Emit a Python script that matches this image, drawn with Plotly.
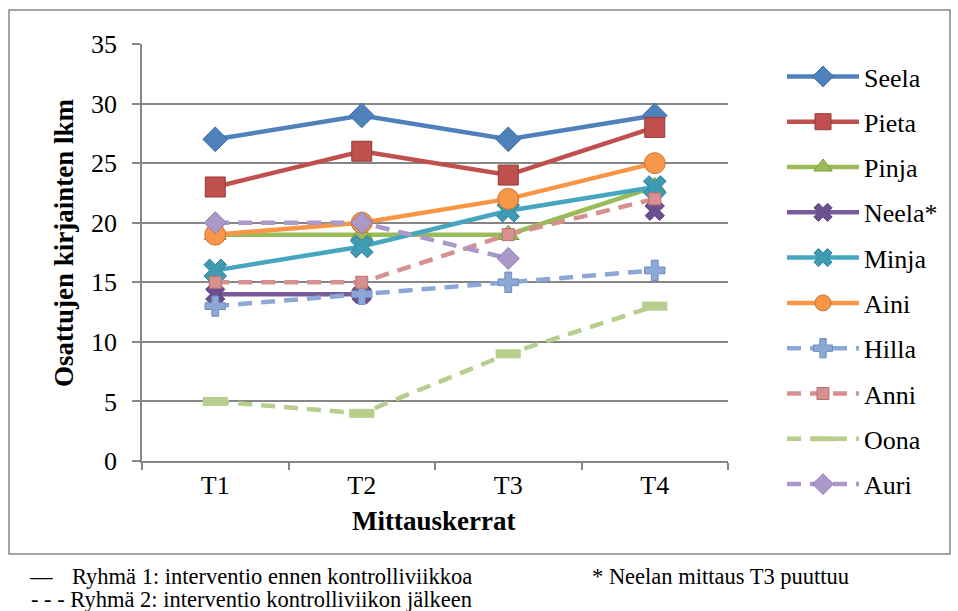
import plotly.graph_objects as go

# Canvas and plot-area geometry (pixels)
W, H = 958, 611
PLOT_L, PLOT_R, PLOT_T, PLOT_B = 142, 728, 44, 461


def px(x):
    return (x - PLOT_L) / (PLOT_R - PLOT_L)


def py(y):
    return (PLOT_B - y) / (PLOT_B - PLOT_T)


# ---- data ----
measurements = ["T1", "T2", "T3", "T4"]
names = ["Seela", "Pieta", "Pinja", "Neela*", "Minja", "Aini",
         "Hilla", "Anni", "Oona", "Auri"]
seela = [27, 29, 27, 29]
pieta = [23, 26, 24, 28]
pinja = [19, 19, 19, 23]
neela = [14, 14, None, 21]
minja = [16, 18, 21, 23]
aini = [19, 20, 22, 25]
hilla = [13, 14, 15, 16]
anni = [15, 15, 19, 22]
oona = [5, 4, 9, 13]
auri = [20, 20, 17, None]
values = [seela, pieta, pinja, neela, minja, aini, hilla, anni, oona, auri]
y_ticks = [0, 5, 10, 15, 20, 25, 30, 35]

# ---- styles: (line colour, dash, symbol, size, marker colour, outline) ----
DASH = "14px,9px"
styles = [
    ("#4F81BD", "solid", "diamond", 19, "#4F81BD", "#3B6AA3"),
    ("#C0504D", "solid", "square", 20, "#C0504D", "#933A38"),
    ("#9BBB59", "solid", "triangle-up", 19, "#9BBB59", "#7A9A3A"),
    ("#7A5C9C", "solid", "x", 17, "#6B4F8E", "#5A3F7C"),
    ("#46A6C0", "solid", "x", 20, "#3F9AB3", "#2F8298"),
    ("#F79646", "solid", "circle", 21, "#F79646", "#C87534"),
    ("#8CA8D6", DASH, "cross", 17, "#8CA8D6", "#6E8DBE"),
    ("#D6908F", DASH, "square", 12, "#D6908F", "#B87170"),
    ("#B7CE8C", DASH, "line-ew", 18, "#B7CE8C", "#B7CE8C"),
    ("#AA98C8", DASH, "diamond", 17, "#AA98C8", "#8E7BB0"),
]

SERIF = "Liberation Serif, Times New Roman, serif"
GRID = "#868686"

fig = go.Figure()
for name, vals, (lc, dash, sym, size, mc, oc) in zip(names, values, styles):
    if sym == "line-ew":
        marker = dict(symbol=sym, size=size, color=mc,
                      line=dict(color=oc, width=9))
    else:
        marker = dict(symbol=sym, size=size, color=mc,
                      line=dict(color=oc, width=1))
    fig.add_trace(go.Scatter(
        x=measurements, y=vals, name=name, legendgroup=name,
        mode="lines+markers", connectgaps=False,
        line=dict(color=lc, width=4.5, dash=dash),
        marker=marker,
    ))

NOTE_FONT = dict(family=SERIF, size=22.5, color="#000")
annotations = [
    # axis titles
    dict(text="<b>Osattujen kirjainten lkm</b>", textangle=-90,
         x=px(64), y=py(243), xanchor="center", yanchor="middle",
         font=dict(family=SERIF, size=27, color="#000")),
    dict(text="<b>Mittauskerrat</b>",
         x=px(433), y=py(521), xanchor="center", yanchor="middle",
         font=dict(family=SERIF, size=27, color="#000")),
    # notes under the chart
    dict(text="\u2014", x=px(27), y=py(576), xanchor="left",
         yanchor="middle", font=NOTE_FONT),
    dict(text="Ryhmä 1: interventio ennen kontrolliviikkoa",
         x=px(70), y=py(576), xanchor="left", yanchor="middle",
         font=NOTE_FONT),
    dict(text="* Neelan mittaus T3 puuttuu",
         x=px(590), y=py(576), xanchor="left", yanchor="middle",
         font=NOTE_FONT),
    dict(text="- - - Ryhmä 2: interventio kontrolliviikon jälkeen",
         x=px(29), y=py(599), xanchor="left", yanchor="middle",
         font=NOTE_FONT),
]
for a in annotations:
    a.update(xref="paper", yref="paper", showarrow=False)

fig.update_layout(
    width=W, height=H,
    margin=dict(l=PLOT_L, r=W - PLOT_R, t=PLOT_T, b=H - PLOT_B),
    paper_bgcolor="white", plot_bgcolor="white",
    font=dict(family=SERIF, size=26, color="#000"),
    showlegend=True,
    legend=dict(
        x=px(782), y=py(53), xanchor="left", yanchor="top",
        itemwidth=72, tracegroupgap=8.5, maxheight=560,
        font=dict(family=SERIF, size=26, color="#000"),
        bgcolor="rgba(0,0,0,0)",
    ),
    xaxis=dict(
        type="category", categoryorder="array", categoryarray=measurements,
        showline=True, linecolor=GRID, linewidth=1.5,
        ticks="outside", tickson="boundaries", ticklen=7, tickcolor=GRID,
        tickwidth=1.5, showgrid=False, zeroline=False,
        tickfont=dict(family=SERIF, size=26, color="#000"),
        range=[-0.5, 3.5],
    ),
    yaxis=dict(
        range=[0, 35], tickvals=y_ticks,
        showline=True, linecolor=GRID, linewidth=1.5,
        ticks="outside", ticklen=8, tickcolor=GRID, tickwidth=1.5,
        showgrid=True, gridcolor=GRID, gridwidth=1.5, zeroline=False,
        tickfont=dict(family=SERIF, size=26, color="#000"),
        ticklabelstandoff=10,
    ),
    annotations=annotations,
    shapes=[dict(
        type="rect", xref="paper", yref="paper",
        x0=px(9), x1=px(950), y0=py(554), y1=py(10),
        line=dict(color=GRID, width=1.5), fillcolor="rgba(0,0,0,0)",
        layer="below",
    )],
)

fig.write_html("out.html")
